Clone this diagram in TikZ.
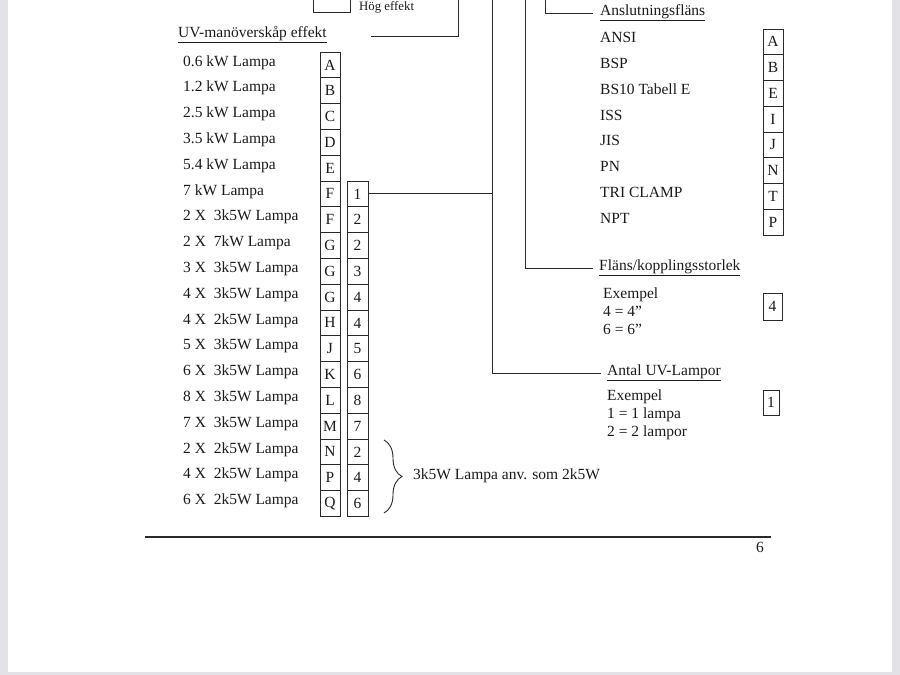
\documentclass[tikz,border=0pt]{standalone}
\usepackage{fontspec}
\setmainfont{Liberation Serif}
\usetikzlibrary{decorations.pathreplacing}
\definecolor{ink}{HTML}{1C1C1C}
\definecolor{linec}{HTML}{2A2A2A}
\definecolor{edge}{HTML}{E3E3E7}
\begin{document}
\begin{tikzpicture}[x=1pt,y=-1pt,
  every node/.style={text=ink, font=\fontsize{15.5}{18}\selectfont},
  lbl/.style={anchor=west, inner sep=0pt},
  cell/.style={draw=linec, line width=0.9pt, inner sep=0pt, minimum width=20pt},
  conn/.style={draw=linec, line width=1pt},
  small/.style={font=\fontsize{12.8}{15}\selectfont}
]
\useasboundingbox (0,0) rectangle (900,675);
\fill[edge] (0,0) rectangle (900,675);
\fill[white] (8,0) rectangle (892,672);

% top partial box and its label
\draw[linec, line width=0.9pt] (313,0) -- (313,12) -- (350,12) -- (350,0);
\node[lbl, small] (hog) at (359,7) {Hög effekt};

% left section title
\node[lbl] (uvt) at (178,35) {\underline{UV-manöverskåp effekt}};
\coordinate (v0) at (458,0);
\coordinate (uvend) at (371,36);
\draw[conn] (v0) |- (uvend);

% left column 1
\foreach \l/\txt [count=\i] in {A/{0.6 kW Lampa}, B/{1.2 kW Lampa}, C/{2.5 kW Lampa},
  D/{3.5 kW Lampa}, E/{5.4 kW Lampa}, F/{7 kW Lampa}, F/{2 X\ \ 3k5W Lampa},
  G/{2 X\ \ 7kW Lampa}, G/{3 X\ \ 3k5W Lampa}, G/{4 X\ \ 3k5W Lampa},
  H/{4 X\ \ 2k5W Lampa}, J/{5 X\ \ 3k5W Lampa}, K/{6 X\ \ 3k5W Lampa},
  L/{8 X\ \ 3k5W Lampa}, M/{7 X\ \ 3k5W Lampa}, N/{2 X\ \ 2k5W Lampa},
  P/{4 X\ \ 2k5W Lampa}, Q/{6 X\ \ 2k5W Lampa}} {
  \node[cell, minimum height=25.8pt] (ca\i) at (330,{52+25.8*(\i-0.5)}) {\l};
  \node[lbl] (la\i) at (183,{52+25.8*(\i-0.5)-2.5}) {\txt};
}
% left column 2
\foreach \n [count=\i from 6] in {1,2,2,3,4,4,5,6,8,7,2,4,6} {
  \node[cell, minimum width=21pt, minimum height=25.8pt] (cb\i) at (357.5,{52+25.8*(\i-0.5)}) {\n};
}

% brace
\coordinate (brt) at (384,440);
\coordinate (brb) at (384,513);
\draw[linec, line width=0.9pt, decoration={brace, amplitude=18pt, aspect=0.5}, decorate] (brt) -- (brb);
\node[lbl] (bnote) at (413,476) {3k5W Lampa anv. som 2k5W};

% right: Anslutningsflans
\node[lbl] (ansl) at (600,13) {\underline{Anslutningsfläns}};
\foreach \l/\txt [count=\i] in {A/ANSI, B/BSP, E/{BS10 Tabell E}, I/ISS, J/JIS, N/PN, T/{TRI CLAMP}, P/NPT} {
  \node[cell, minimum height=25.75pt] (ra\i) at (773,{29+25.75*(\i-0.5)}) {\l};
  \node[lbl] (rl\i) at (600,{29+25.75*(\i-0.5)-4}) {\txt};
}

% right: Flans/kopplingsstorlek
\node[lbl] (flt) at (599,268) {\underline{Fläns/kopplingsstorlek}};
\node[lbl, align=left, font=\fontsize{15.5}{18}\selectfont] (flx) at (603,311) {Exempel\\4 = 4''\\6 = 6''};
\node[cell, minimum width=19pt, minimum height=27pt] (flb) at (772.5,306.5) {4};

% right: Antal UV-Lampor
\node[lbl] (ant) at (607,373) {\underline{Antal UV-Lampor}};
\node[lbl, align=left, font=\fontsize{15.5}{18}\selectfont] (anx) at (607,415) {Exempel\\1 = 1 lampa\\2 = 2 lampor};
\node[cell, minimum width=16pt, minimum height=25pt] (anb) at (771,402.5) {1};

% connectors
\coordinate (v1) at (492,0);
\coordinate (v2) at (525,0);
\coordinate (v3) at (545,0);
\draw[conn] (v1) |- ([xshift=-6pt]ant.west);
\draw[conn] (cb6.east) -- (cb6.east -| v1);
\draw[conn] (v2) |- ([xshift=-6pt]flt.west);
\draw[conn] (v3) |- ([xshift=-7pt]ansl.west);

% footer
\coordinate (fl) at (145,537);
\coordinate (fr) at (771,537);
\draw[draw=linec, line width=1.3pt] (fl) -- (fr);
\node[lbl] (pg) at (756,547) {6};
\end{tikzpicture}
\end{document}
